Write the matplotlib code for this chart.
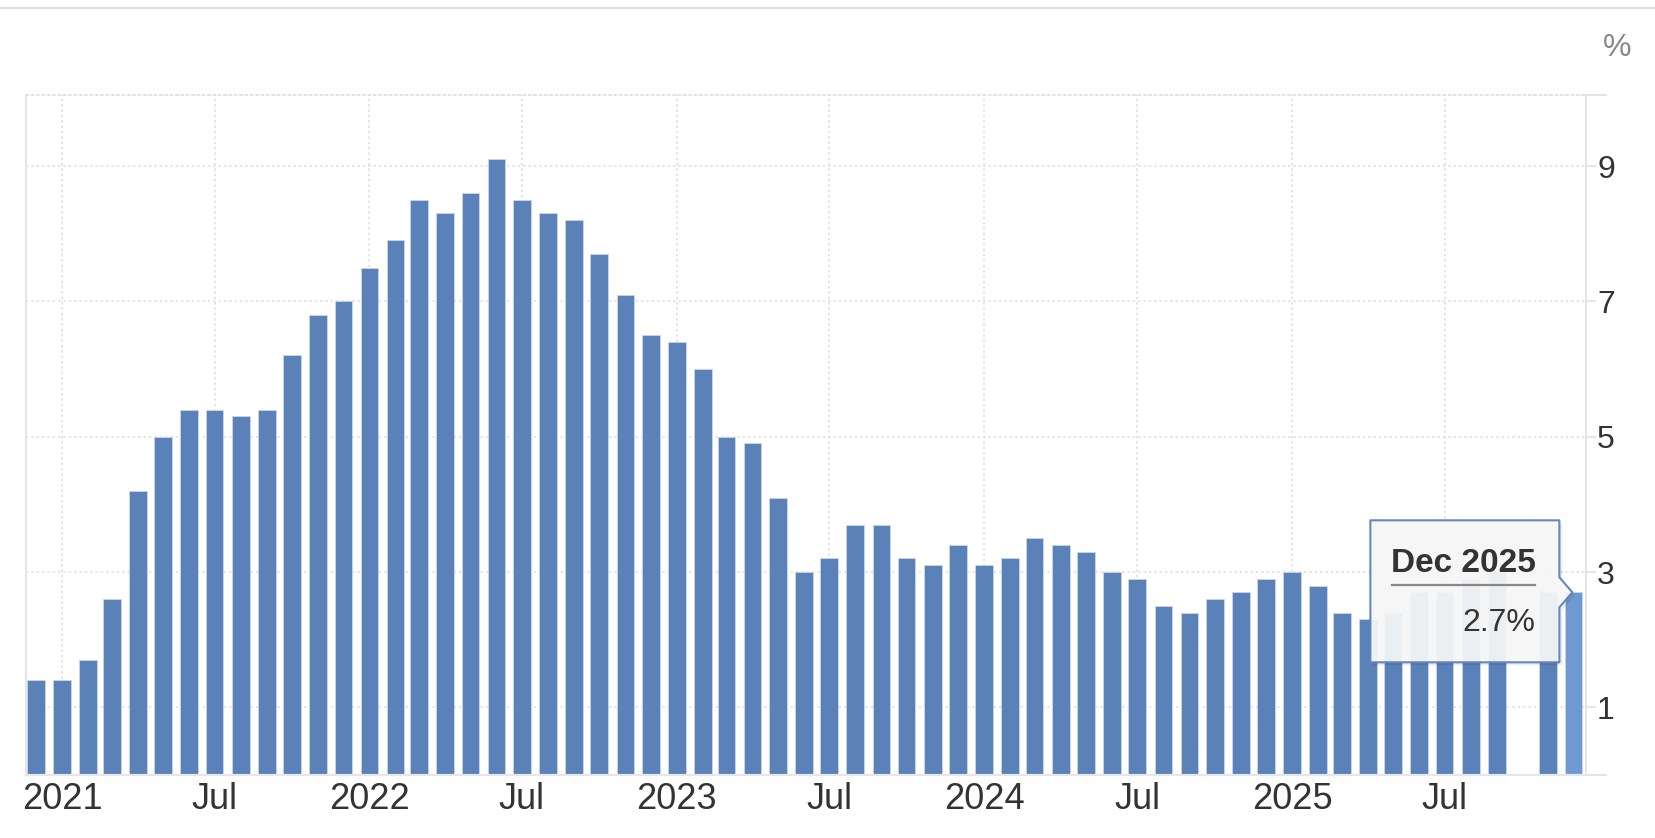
import numpy as np
import pandas as pd
import matplotlib
matplotlib.use('Agg')
import matplotlib.pyplot as plt
import matplotlib.dates as mdates
from matplotlib.patches import Polygon
from matplotlib.lines import Line2D
from matplotlib.transforms import IdentityTransform

plt.rcParams['font.family'] = ['Liberation Sans', 'DejaVu Sans']

# monthly inflation rate, Dec 2020 .. Dec 2025 (Oct 2025 not published)
months = pd.date_range('2020-12-01', '2025-12-01', freq='MS')
values = [1.4, 1.4, 1.7, 2.6, 4.2, 5.0, 5.4, 5.4, 5.3, 5.4, 6.2, 6.8, 7.0,
          7.5, 7.9, 8.5, 8.3, 8.6, 9.1, 8.5, 8.3, 8.2, 7.7, 7.1, 6.5,
          6.4, 6.0, 5.0, 4.9, 4.1, 3.0, 3.2, 3.7, 3.7, 3.2, 3.1, 3.4,
          3.1, 3.2, 3.5, 3.4, 3.3, 3.0, 2.9, 2.5, 2.4, 2.6, 2.7, 2.9,
          3.0, 2.8, 2.4, 2.3, 2.4, 2.7, 2.7, 2.9, 3.0, None, 2.7, 2.7]

tick_dates = pd.date_range('2021-01-01', '2025-07-01', freq='6MS')
tick_labels = ['2021', 'Jul', '2022', 'Jul', '2023', 'Jul', '2024', 'Jul', '2025', 'Jul']
y_ticks = [1, 3, 5, 7, 9]
tip_label = 'Dec 2025'
tip_value = '2.7%'

BAR = '#5b81b9'
BAR_HI = '#7199d1'
GRID = '#dcdcdc'
TXT = '#333333'

W, H = 1656, 838
fig = plt.figure(figsize=(W / 100, H / 100), dpi=100)
ax = fig.add_axes([26 / W, 63 / H, 1560 / W, 680 / H])

x = mdates.date2num(months.to_pydatetime())
ok = [v is not None for v in values]
xs = x[ok]
vs = np.array([v for v in values if v is not None])

colors = [BAR] * len(vs)
colors[-1] = BAR_HI
ax.bar(xs, vs, width=21, color=colors, edgecolor='#c9d6ec', linewidth=0.6, zorder=2)

ax.set_xlim(mdates.date2num(pd.Timestamp('2020-11-19')), mdates.date2num(pd.Timestamp('2025-12-16')))
ax.set_ylim(0, 10.05)

ax.set_xticks(mdates.date2num(tick_dates.to_pydatetime()))
ax.set_xticklabels(tick_labels)
ax.yaxis.tick_right()
ax.set_yticks(y_ticks)
ax.set_yticks([0, 10.05], minor=True)
ax.tick_params(axis='y', which='major', length=7, width=1.2, color='#e0e0e0', pad=1,
               labelsize=23, labelcolor=TXT)
ax.tick_params(axis='y', which='minor', length=15, width=1.2, color='#e0e0e0')
ax.tick_params(axis='x', length=0, pad=5, labelsize=26, labelcolor=TXT)

ax.grid(True, which='major', linestyle=(0, (1.5, 2)), color=GRID, linewidth=1.1)
ax.set_axisbelow(True)

for s in ['left', 'bottom']:
    ax.spines[s].set_color('#e6e6e6')
    ax.spines[s].set_linewidth(1.6)
ax.spines['right'].set_color('#e0e0e0')
ax.spines['right'].set_linewidth(1.2)
ax.spines['top'].set_color(GRID)
ax.spines['top'].set_linestyle((0, (1.5, 2)))
ax.spines['top'].set_linewidth(1.1)

fig.text(1617 / W, 1 - 48 / H, '%', ha='center', va='center', fontsize=23, color='#888888')
fig.add_artist(Line2D([0, 1], [1 - 8 / H] * 2, transform=fig.transFigure, color='#dcdcdc', lw=1.6))

# hover tooltip pointing at the last bar
tx, ty = ax.transData.transform((xs[-1], vs[-1]))
box = np.array([[-203, 72], [-14, 72], [-14, 15], [-1, 0], [-14, -15],
                [-14, -70], [-203, -70]], dtype=float)
box[:, 0] += tx
box[:, 1] += ty
idt = IdentityTransform()
shadow = Polygon(box + [3, -3], closed=True, transform=idt, facecolor='black',
                 alpha=0.07, edgecolor='none', zorder=4)
fig.add_artist(shadow)
tip = Polygon(box, closed=True, transform=idt, facecolor='#f7f7f7', alpha=0.94,
              edgecolor='#5b81b9', linewidth=1.5, joinstyle='round', zorder=5)
fig.add_artist(tip)
fig.add_artist(Line2D([tx - 181, tx - 38], [ty + 7, ty + 7], transform=idt,
                      color='#888888', lw=1.6, zorder=6))
fig.text(tx - 110, ty + 20, tip_label, transform=idt, ha='center', va='baseline',
         fontsize=24, fontweight='bold', color=TXT, zorder=6)
fig.text(tx - 38, ty - 39, tip_value, transform=idt, ha='right', va='baseline',
         fontsize=23, color=TXT, zorder=6)

fig.savefig('out.png', dpi=100)
